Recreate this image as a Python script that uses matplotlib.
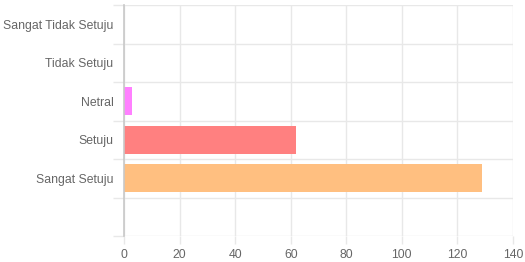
import numpy as np
import matplotlib
matplotlib.use("Agg")
import matplotlib.pyplot as plt

plt.rcParams["font.family"] = ["Liberation Sans", "DejaVu Sans"]

# data kuesioner
kategori = ["Sangat Tidak Setuju", "Tidak Setuju", "Netral", "Setuju", "Sangat Setuju", ""]
jumlah = [0, 0, 3, 62, 129, 0]
warna = ["#FF80FF", "#FF80FF", "#FF80FF", "#FF8080", "#FFBF80", "#FFFFFF"]
x_ticks = [0, 20, 40, 60, 80, 100, 120, 140]

grid_c = "#e8e8e8"
teks_c = "#666666"

fig = plt.figure(figsize=(5.25, 2.62), dpi=100)
ax = fig.add_axes([124 / 525, 1 - 236 / 262, 389 / 525, 231 / 262])

pos = np.arange(len(kategori))
ax.barh(pos, jumlah, height=0.72, color=warna, zorder=3)

ax.set_ylim(len(kategori) - 0.5, -0.5)
ax.set_xlim(0, 140)
ax.set_xticks(x_ticks)
ax.set_yticks(pos)
ax.set_yticklabels(kategori)
ax.set_yticks(np.arange(len(kategori) + 1) - 0.5, minor=True)

ax.grid(True, which="major", axis="x", color=grid_c, lw=1, zorder=0)
ax.grid(True, which="minor", axis="y", color=grid_c, lw=1, zorder=0)
ax.tick_params(axis="y", which="major", length=0, pad=7.5, labelsize=8.8, labelcolor=teks_c)
ax.tick_params(axis="y", which="minor", length=8, color=grid_c, width=1)
ax.tick_params(axis="x", which="major", length=6, color=grid_c, width=1, pad=3,
               labelsize=8.8, labelcolor=teks_c)

for s in ["top", "right", "bottom"]:
    ax.spines[s].set_visible(False)
ax.spines["left"].set_color("#c8c8c8")
ax.spines["left"].set_linewidth(1.2)
ax.spines["left"].set_zorder(4)

fig.savefig("out.png", dpi=100)
